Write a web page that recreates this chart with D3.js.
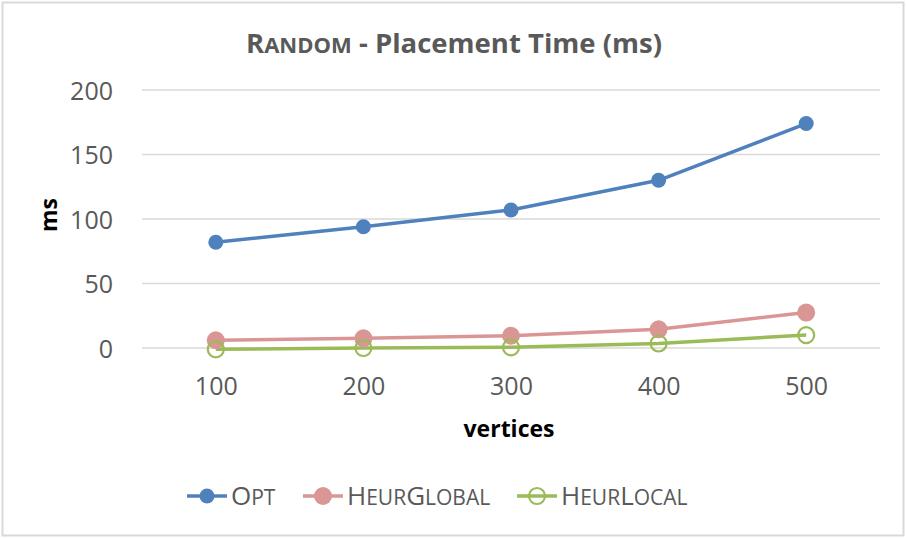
<!DOCTYPE html>
<html><head><meta charset="utf-8">
<script src="https://cdn.jsdelivr.net/npm/d3@7"></script>
<style>
body{margin:0;background:#fff;}
text{font-family:"Open Sans",sans-serif;}
</style></head>
<body><svg id="c" width="906" height="539"></svg>
<script>
const categories = ["100","200","300","400","500"];
const optValues = [82, 94, 107, 130, 174];
const heurGlobalValues = [6, 7.5, 9.5, 14.5, 27.5];
const heurLocalValues = [-1, 0, 0.5, 3.5, 10];
const yTicks = [0, 50, 100, 150, 200];

const svg = d3.select("#c");
svg.append("rect").attr("x",2.5).attr("y",2.5).attr("width",901).attr("height",533)
  .attr("fill","#fff").attr("stroke","#D9D9D9").attr("stroke-width",2);

const x = d3.scalePoint().domain(categories).range([142,880]).padding(0.5);
const y = d3.scaleLinear().domain([0,200]).range([348,90]);

// gridlines
svg.append("g").selectAll("line").data(yTicks).join("line")
  .attr("x1",142).attr("x2",880).attr("y1",d=>y(d)).attr("y2",d=>y(d))
  .attr("stroke","#D9D9D9").attr("stroke-width",1.3);

// y axis labels
const yAxis = d3.axisLeft(y).tickValues(yTicks).tickSize(0).tickPadding(0);
const gy = svg.append("g").attr("transform","translate(113,0)").call(yAxis);
gy.select(".domain").remove();
gy.selectAll("text").attr("font-size",25).attr("fill","#595959").attr("font-family","Open Sans").attr("dy","0.36em");

// x axis labels
const xAxis = d3.axisBottom(x).tickSize(0).tickPadding(0);
const gx = svg.append("g").attr("transform","translate(0,395)").call(xAxis);
gx.select(".domain").remove();
gx.selectAll("text").attr("font-size",25).attr("fill","#595959").attr("font-family","Open Sans").attr("dy",0);

// axis titles
svg.append("text").attr("x",509).attr("y",437).attr("text-anchor","middle")
  .attr("font-size",23).attr("font-weight","bold").attr("fill","#000").text("vertices");
svg.append("text").attr("transform","translate(57,215) rotate(-90)").attr("text-anchor","middle")
  .attr("font-size",23).attr("font-weight","bold").attr("fill","#000").text("ms");

// title with small caps
const title = svg.append("text").attr("x",454).attr("y",53).attr("text-anchor","middle")
  .attr("font-size",27.5).attr("font-weight","bold").attr("fill","#595959");
title.append("tspan").text("R");
title.append("tspan").attr("font-size",22).text("ANDOM");
title.append("tspan").text(" - Placement Time (ms)");

const series = [
  {name:[["O",1],["PT",0]], values:optValues, color:"#4F81BD", r:7.5, fill:true},
  {name:[["H",1],["EUR",0],["G",1],["LOBAL",0]], values:heurGlobalValues, color:"#D99694", r:9, fill:true},
  {name:[["H",1],["EUR",0],["L",1],["OCAL",0]], values:heurLocalValues, color:"#9BBB59", r:8, fill:false}
];

const line = d3.line().x((d,i)=>x(categories[i])).y(d=>y(d));
series.forEach(s=>{
  svg.append("path").datum(s.values).attr("d",line).attr("fill","none")
    .attr("stroke",s.color).attr("stroke-width",3.5).attr("stroke-linejoin","round");
});
series.forEach(s=>{
  svg.append("g").selectAll("circle").data(s.values).join("circle")
    .attr("cx",(d,i)=>x(categories[i])).attr("cy",d=>y(d)).attr("r",s.r)
    .attr("fill",s.fill?s.color:"none").attr("stroke",s.color).attr("stroke-width",s.fill?0:2.2);
});

// legend
const legendX = [187, 303, 517];
const ly = 496;
series.forEach((s,i)=>{
  const g = svg.append("g");
  g.append("line").attr("x1",legendX[i]).attr("x2",legendX[i]+40).attr("y1",ly).attr("y2",ly)
    .attr("stroke",s.color).attr("stroke-width",3.5);
  g.append("circle").attr("cx",legendX[i]+20).attr("cy",ly).attr("r",s.r)
    .attr("fill",s.fill?s.color:"none").attr("stroke",s.color).attr("stroke-width",s.fill?0:2.2);
  const t = g.append("text").attr("x",legendX[i]+44).attr("y",505).attr("fill","#595959").attr("font-size",26);
  s.name.forEach(([txt,big])=>t.append("tspan").attr("font-size",big?26:21).text(txt));
});
</script></body></html>
